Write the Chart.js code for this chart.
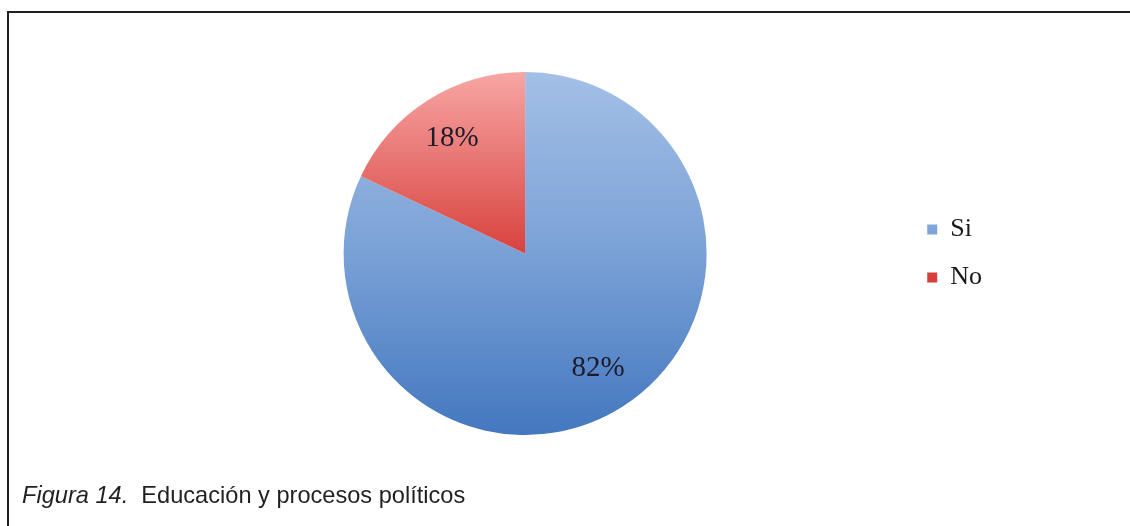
<!DOCTYPE html>
<html lang="es">
<head>
<meta charset="utf-8">
<title>Educación y procesos políticos</title>
<script src="https://cdn.jsdelivr.net/npm/chart.js@4.4.1/dist/chart.umd.min.js"></script>
<style>
  html, body { margin: 0; padding: 0; background: #ffffff; }
  body { width: 1130px; height: 526px; position: relative; overflow: hidden; }
  #frame {
    position: absolute; left: 7px; top: 11px; right: 0; bottom: 0;
    border-top: 2px solid #231f20; border-left: 2px solid #231f20;
  }
  #chartBox { position: absolute; left: 0; top: 0; width: 1130px; height: 526px; }
  #caption {
    position: absolute; left: 22px; top: 483px;
    font-family: "Liberation Sans", Arial, sans-serif; font-size: 23.6px; line-height: 24px;
    color: #231f20; white-space: pre;
  }
  #caption i { font-style: italic; }
</style>
</head>
<body>
<div id="frame"></div>
<div id="chartBox"><canvas id="pie"></canvas></div>
<div id="caption"><i>Figura 14.</i>  Educación y procesos políticos</div>
<script>
// Answers to the question, in percent
const categories = ['Si', 'No'];
const values = [82, 18];

// Vertical gradient stops for each slice (top of the pie -> bottom)
const gradientStops = [
  [[0, '#a3c0e6'], [0.5, '#7aa1d6'], [1, '#4377bf']],
  [[0, '#f7a6a4'], [0.5, '#d8423e'], [1, '#c0302c']]
];

function sliceFill(ctx) {
  const chart = ctx.chart;
  const area = chart.chartArea;
  const stops = gradientStops[ctx.dataIndex % gradientStops.length];
  if (!area) return stops[1][1];
  const r = Math.min(area.right - area.left, area.bottom - area.top) / 2;
  const cy = (area.top + area.bottom) / 2;
  const g = chart.ctx.createLinearGradient(0, cy - r, 0, cy + r);
  stops.forEach(([o, c]) => g.addColorStop(o, c));
  return g;
}

// Percentage labels drawn inside each slice
const sliceLabels = {
  id: 'sliceLabels',
  afterDatasetsDraw(chart) {
    const meta = chart.getDatasetMeta(0);
    const data = chart.data.datasets[0].data;
    const total = data.reduce((a, b) => a + b, 0);
    const ctx = chart.ctx;
    ctx.save();
    ctx.font = '29px "Liberation Serif", "Times New Roman", serif';
    ctx.fillStyle = '#1b1b2b';
    ctx.textAlign = 'center';
    ctx.textBaseline = 'middle';
    meta.data.forEach((arc, i) => {
      const p = arc.getProps(['x', 'y', 'startAngle', 'endAngle', 'outerRadius'], true);
      const mid = (p.startAngle + p.endAngle) / 2;
      const d = p.outerRadius * 0.75;
      const text = Math.round(data[i] / total * 100) + '%';
      ctx.fillText(text, p.x + Math.cos(mid) * d, p.y + Math.sin(mid) * d);
    });
    ctx.restore();
  }
};

new Chart(document.getElementById('pie'), {
  type: 'pie',
  data: {
    labels: categories,
    datasets: [{
      data: values,
      backgroundColor: sliceFill,
      borderWidth: 0
    }]
  },
  options: {
    responsive: true,
    maintainAspectRatio: false,
    animation: false,
    events: [],
    layout: { padding: { left: 145, right: 138, top: 72, bottom: 91 } },
    plugins: {
      legend: {
        position: 'right',
        labels: {
          boxWidth: 10,
          boxHeight: 10,
          padding: 22,
          color: '#1a1a1a',
          font: { family: '"Liberation Serif", "Times New Roman", serif', size: 26 }
        }
      },
      tooltip: { enabled: false }
    }
  },
  plugins: [sliceLabels]
});
</script>
</body>
</html>
